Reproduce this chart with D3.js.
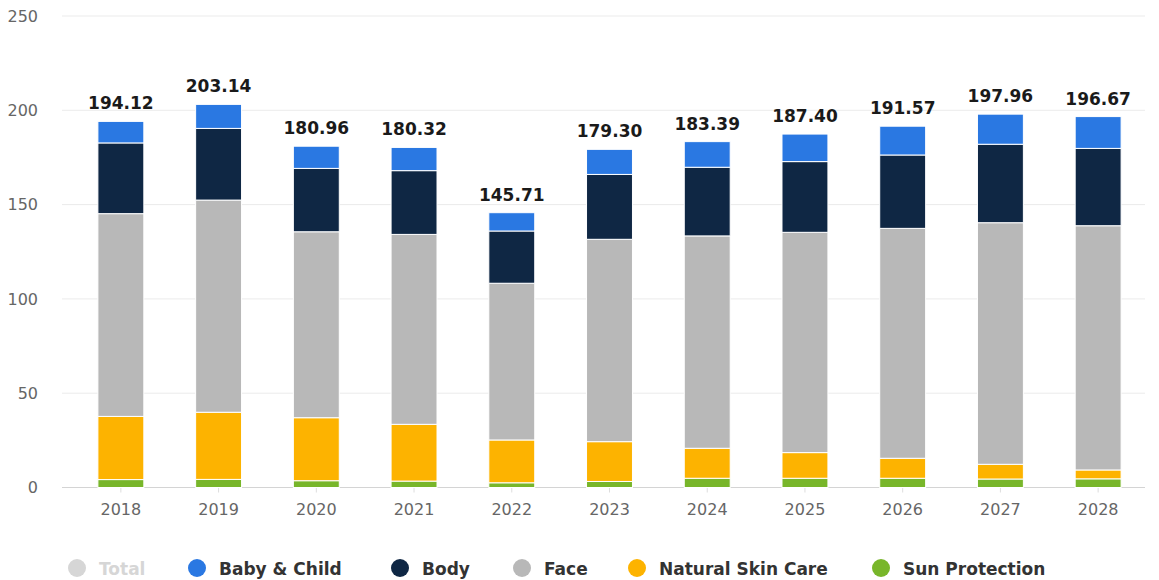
<html>
<head>
    <script src="https://d3js.org/d3.v7.min.js"></script>
    <style>
        body { margin: 0; background: #fff; }
    </style>
</head>
<body>
    <svg id='s' width="1159" height="580"></svg>
    <script>
        // data
        const years = ["2018", "2019", "2020", "2021", "2022", "2023", "2024", "2025", "2026", "2027", "2028"]
        const sunProtection = [4.2, 4.3, 3.6, 3.4, 2.5, 3.2, 4.9, 4.9, 4.9, 4.5, 4.6]
        const naturalSkinCare = [33.5, 35.6, 33.4, 30.1, 22.7, 21.1, 15.9, 13.6, 10.6, 7.8, 4.7]
        const face = [107.5, 112.5, 98.6, 100.7, 83.1, 107.3, 112.6, 116.8, 121.9, 128.1, 129.5]
        const body = [37.5, 38.0, 33.6, 33.8, 27.7, 34.4, 36.4, 37.5, 38.9, 41.6, 41.0]
        const babyChild = [11.42, 12.74, 11.76, 12.32, 9.71, 13.3, 13.59, 14.6, 15.27, 15.96, 16.87]
        const totals = [194.12, 203.14, 180.96, 180.32, 145.71, 179.30, 183.39, 187.40, 191.57, 197.96, 196.67]
        const yTicks = [0, 50, 100, 150, 200, 250]

        const seriesNames = ["Sun Protection", "Natural Skin Care", "Face", "Body", "Baby & Child"]
        const seriesValues = [sunProtection, naturalSkinCare, face, body, babyChild]
        const colors = ["#78b62a", "#fdb300", "#b8b8b8", "#0f2744", "#2a78e2"]

        const legendNames = ["Total", "Baby & Child", "Body", "Face", "Natural Skin Care", "Sun Protection"]
        const legendColors = ["#d6d6d6", "#2a78e2", "#0f2744", "#b8b8b8", "#fdb300", "#78b62a"]

        const FONT = "'DejaVu Sans', sans-serif"
        const svg = d3.select("svg")

        const x = d3.scaleBand()
            .domain(years)
            .range([72, 1147])
            .paddingInner(0.53)
            .paddingOuter(0.265)

        const y = d3.scaleLinear()
            .domain([0, 250])
            .range([487.5, 16])

        // grid lines
        svg.append("g")
            .selectAll("line")
            .data(yTicks)
            .enter().append("line")
            .attr("x1", 62)
            .attr("x2", 1145)
            .attr("y1", d => y(d))
            .attr("y2", d => y(d))
            .attr("stroke", d => d === 0 ? "#d4d4d4" : "#ebebeb")
            .attr("stroke-width", 1)

        // y axis labels
        const yAxisCall = d3.axisLeft(y).tickValues(yTicks).tickSize(0).tickPadding(0)
        const yAxis = svg.append("g")
            .attr("transform", "translate(38, 0)")
            .call(yAxisCall)
        yAxis.select(".domain").remove()
        yAxis.selectAll("text")
            .attr("font-family", FONT)
            .attr("font-size", "16px")
            .attr("fill", "#666")

        // x axis
        const xAxisCall = d3.axisBottom(x).tickSize(5).tickPadding(11)
        const xAxis = svg.append("g")
            .attr("transform", `translate(0, ${y(0)})`)
            .call(xAxisCall)
        xAxis.select(".domain").remove()
        xAxis.selectAll("line").attr("stroke", "#ddd")
        xAxis.selectAll("text")
            .attr("font-family", FONT)
            .attr("font-size", "16px")
            .attr("fill", "#666")

        // stacked bars
        const table = years.map((yr, i) => {
            const row = { year: yr }
            seriesNames.forEach((s, j) => { row[s] = seriesValues[j][i] })
            return row
        })
        const stack = d3.stack().keys(seriesNames)(table)

        svg.append("g")
            .selectAll("g")
            .data(stack)
            .enter().append("g")
            .attr("fill", (d, i) => colors[i])
            .selectAll("rect")
            .data(d => d)
            .enter().append("rect")
            .attr("x", d => x(d.data.year))
            .attr("width", x.bandwidth())
            .attr("y", d => y(d[1]))
            .attr("height", d => y(d[0]) - y(d[1]))
            .attr("stroke", "#fff")
            .attr("stroke-width", 1)

        // total labels
        svg.append("g")
            .selectAll("text")
            .data(years)
            .enter().append("text")
            .attr("x", d => x(d) + x.bandwidth() / 2)
            .attr("y", (d, i) => y(totals[i]) - 12)
            .attr("text-anchor", "middle")
            .attr("font-family", FONT)
            .attr("font-weight", "bold")
            .attr("font-size", "17px")
            .attr("fill", "#1a1a1a")
            .text((d, i) => totals[i].toFixed(2))

        // legend
        const legendX = [77, 197, 400, 522, 637, 881]
        const legend = svg.append("g")
            .selectAll("g")
            .data(legendNames)
            .enter().append("g")
            .attr("transform", (d, i) => `translate(${legendX[i]}, 568)`)
        legend.append("circle")
            .attr("r", 9)
            .attr("fill", (d, i) => legendColors[i])
        legend.append("text")
            .attr("x", 22)
            .attr("y", 7)
            .attr("font-family", FONT)
            .attr("font-weight", "bold")
            .attr("font-size", "17px")
            .attr("fill", (d, i) => i === 0 ? "#d6d6d6" : "#333")
            .text(d => d)
    </script>
</body>
</html>
